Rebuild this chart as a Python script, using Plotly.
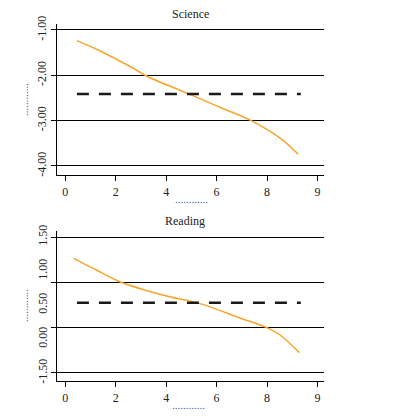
import plotly.graph_objects as go

# X tick labels (evenly spaced positions, odd last label as in original)
x_tickvals = [0, 2, 4, 6, 8, 10]
x_ticktext = ["0", "2", "4", "6", "8", "9"]

# Science panel
sci_x = [0.46, 1.36, 2.68, 3.22, 4.9, 6.2, 7.37, 8.53, 9.24]
sci_y = [-1.236, -1.457, -1.838, -2.015, -2.41, -2.72, -3.0, -3.39, -3.742]
sci_ref_x = [0.46, 9.34]
sci_ref_y = [-2.41, -2.41]
sci_tickvals = [-1, -2, -3, -4]
sci_ticktext = ["-1.00", "-2.00", "-3.00", "-4.00"]

# Reading panel
read_x = [0.33, 1.23, 2.16, 4.02, 5.34, 6.93, 8.06, 8.52, 9.28]
read_y = [1.187, 1.015, 0.843, 0.632, 0.52, 0.309, 0.157, 0.059, -0.201]
read_ref_x = [0.46, 9.34]
read_ref_y = [0.534, 0.534]
read_grid_vals = [1.5, 0.8333, 0.1667, -0.5]
read_label_vals = [1.5, 1.0, 0.5, 0.0, -0.5]
read_label_text = ["1.50", "1.00", "0.50", "0.00", "-1.50"]

FONT = "Liberation Serif"
ORANGE = "#f7a52a"
BLUE = "#3a55b0"

fig = go.Figure()
fig.add_trace(go.Scatter(x=sci_x, y=sci_y, mode="lines", line=dict(color=ORANGE, width=1.5, shape="spline", smoothing=1.0),
                         xaxis="x", yaxis="y", showlegend=False))
fig.add_trace(go.Scatter(x=sci_ref_x, y=sci_ref_y, mode="lines", line=dict(color="#1a1a1a", width=2.5, dash="12px,10px"),
                         xaxis="x", yaxis="y", showlegend=False))
fig.add_trace(go.Scatter(x=read_x, y=read_y, mode="lines", line=dict(color=ORANGE, width=1.5, shape="spline", smoothing=1.0),
                         xaxis="x2", yaxis="y3", showlegend=False))
fig.add_trace(go.Scatter(x=read_ref_x, y=read_ref_y, mode="lines", line=dict(color="#1a1a1a", width=2.5, dash="12px,10px"),
                         xaxis="x2", yaxis="y3", showlegend=False))
# invisible trace to activate overlay label axis
fig.add_trace(go.Scatter(x=[None], y=[None], xaxis="x2", yaxis="y4", showlegend=False, hoverinfo="skip"))

xcommon = dict(range=[-0.33, 10.26], tickvals=x_tickvals, ticktext=x_ticktext, showgrid=False, zeroline=False,
               showline=True, linecolor="black", linewidth=1.2, ticks="outside", ticklen=5, tickcolor="black",
               automargin=False, tickfont=dict(family=FONT, size=12, color="#222"))

fig.update_layout(
    width=394, height=416,
    margin=dict(l=49, r=78, t=16, b=43),
    paper_bgcolor="white", plot_bgcolor="white",
    xaxis=dict(domain=[0, 1], anchor="y", **xcommon),
    yaxis=dict(domain=[0.577, 1], anchor="x", range=[-4.199, -0.868], tickvals=sci_tickvals, ticktext=sci_ticktext,
               showgrid=True, gridcolor="black", gridwidth=1.2, zeroline=False, showline=True, linecolor="black",
               linewidth=1.2, ticks="outside", ticklen=5, tickcolor="black", tickangle=-90, automargin=False,
               tickfont=dict(family=FONT, size=12, color="#222")),
    xaxis2=dict(domain=[0, 1], anchor="y3", **xcommon),
    yaxis3=dict(domain=[0, 0.421], anchor="x2", range=[-0.618, 1.593], tickvals=read_grid_vals,
                showticklabels=False, showgrid=True, gridcolor="black", gridwidth=1.2, zeroline=False,
                showline=True, linecolor="black", linewidth=1.2, ticks="outside", ticklen=5, tickcolor="black",
                automargin=False),
    yaxis4=dict(overlaying="y3", anchor="x2", side="left", range=[-0.618, 1.593], tickvals=read_label_vals,
                ticktext=read_label_text, showgrid=False, zeroline=False, showline=False, ticks="outside",
                ticklen=4, tickcolor="rgba(0,0,0,0)", tickangle=-90, automargin=False,
                tickfont=dict(family=FONT, size=12, color="#222")),
    annotations=[
        dict(text="Science", x=0.5, y=1.0, xref="paper", yref="paper", xanchor="center", yanchor="bottom",
             yshift=1, showarrow=False, font=dict(family=FONT, size=12, color="#222")),
        dict(text="Reading", x=0.48, y=0.421, xref="paper", yref="paper", xanchor="center", yanchor="bottom",
             yshift=1, showarrow=False, font=dict(family=FONT, size=12, color="#222")),
    ],
)

# axis title placeholders (dotted, blue) placed in paper coords
def px_to_paper(xp, yp):
    return (xp - 57) / 267, (381 - yp) / 357

for (xp, yp, ang) in [(24, 100, -90), (24, 306, -90), (191, 199, 0), (188, 405, 0)]:
    px, py = px_to_paper(xp, yp)
    fig.add_annotation(text="............", x=px, y=py, xref="paper", yref="paper", xanchor="center",
                       yanchor="middle", showarrow=False, textangle=ang,
                       font=dict(family=FONT, size=11, color=BLUE))

fig.write_html("out.html")
